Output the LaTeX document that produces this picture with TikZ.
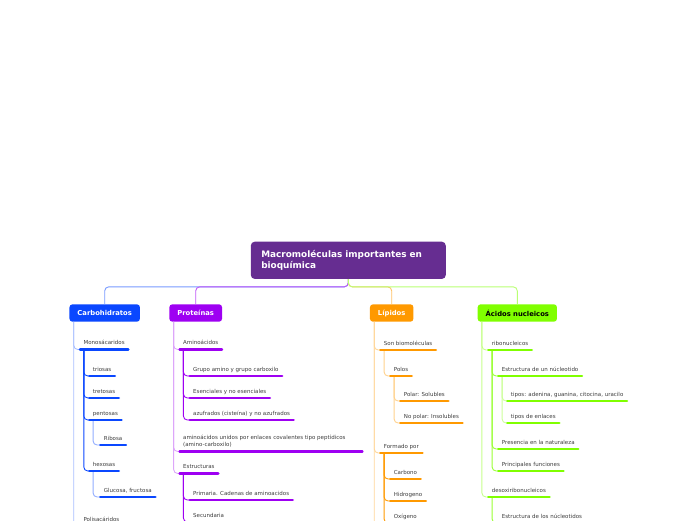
\documentclass[tikz,border=0pt]{standalone}
\usepackage{fontspec}
\newfontfamily\mapfont{DejaVu Sans}
\usetikzlibrary{calc}
\definecolor{RootPurple}{HTML}{662D91}
\definecolor{CarbBlue}{HTML}{0A47FF}
\definecolor{ProtPurple}{HTML}{9E00F2}
\definecolor{LipOrange}{HTML}{FF9900}
\definecolor{AcidGreen}{HTML}{80FF00}
\definecolor{TopicText}{HTML}{3C3C3C}

\begin{document}
\begin{tikzpicture}[x=1pt, y=-1pt,
    rootbox/.style={fill=RootPurple, rounded corners=4pt, text=white, font=\mapfont\bfseries\fontsize{8.9}{11}\selectfont, text width=174pt, align=left, inner xsep=10.5pt, inner ysep=0pt, minimum height=37.3pt},
    mainbox/.style={fill=#1, rounded corners=3pt, text=white, font=\mapfont\bfseries\fontsize{6.8}{8}\selectfont, inner xsep=8pt, inner ysep=0pt, minimum height=17.4pt},
    topic/.style={font=\mapfont\fontsize{5.5}{7.4}\selectfont, text=TopicText, anchor=south west, inner xsep=3.4pt, inner ysep=4.8pt, text depth=0pt},
    uline/.style={draw=#1, line width=2.6pt, line cap=round},
    link/.style={draw=#1, line width=0.9pt, rounded corners=4pt}
  ]
    \useasboundingbox (0,0) rectangle (696,520);
    \clip (0,0) rectangle (696,520);

    \node[rootbox] (root) at (348.3,260.3) {Macromoléculas importantes en\\bioquímica};

    \node[mainbox=CarbBlue] (carb) at (104.7,313) {Carbohidratos};
    \node[mainbox=ProtPurple] (prot) at (195.7,313) {Proteínas};
    \node[mainbox=LipOrange] (lip) at (391.7,313) {Lípidos};
    \node[mainbox=AcidGreen, text=black] (acid) at (517.3,313) {Ácidos nucleicos};

    \coordinate (hub) at ($(root.south)+(0,7.7)$);
    \draw[link=CarbBlue!55] (root.south) -- (hub) -| (carb.north);
    \draw[link=ProtPurple!65] (root.south) -- (hub) -| (prot.north);
    \draw[link=LipOrange!60] (root.south) -- (hub) -| (lip.north);
    \draw[link=AcidGreen!55] (root.south) -- (hub) -| (acid.north);

    % Carbohidratos
    \node[topic] (mono) at (80,349.5) {Monosácaridos};
    \node[topic] (trio) at (89.3,376) {triosas};
    \node[topic] (tret) at (89.3,398) {tretosas};
    \node[topic] (pent) at (89.3,420) {pentosas};
    \node[topic] (ribo) at (100.3,445) {Ribosa};
    \node[topic] (hexo) at (89.3,471) {hexosas};
    \node[topic] (gluc) at (100.3,497) {Glucosa, fructosa};
    \node[topic] (poli) at (80,526) {Polisacáridos};

    % Proteinas
    \node[topic] (amin) at (179.6,349.5) {Aminoácidos};
    \node[topic] (grup) at (189.6,376) {Grupo amino y grupo carboxilo};
    \node[topic] (esen) at (189.6,398) {Esenciales y no esenciales};
    \node[topic] (azuf) at (189.6,420) {azufrados (cisteína) y no azufrados};
    \node[topic] (unid) at (179.6,451.5) {\parbox[b]{175.6pt}{\raggedright aminoácidos unidos por enlaces covalentes tipo peptídicos\\(amino-carboxilo)}};
    \node[topic] (estr) at (179.6,473.5) {Estructuras};
    \node[topic] (prim) at (189.6,500) {Primaria. Cadenas de aminoacidos};
    \node[topic] (secu) at (189.6,522) {Secundaria};

    % Lipidos
    \node[topic] (sonb) at (380.3,350) {Son biomoléculas};
    \node[topic] (polo) at (390.3,376) {Polos};
    \node[topic] (pola) at (400.3,401) {Polar: Solubles};
    \node[topic] (nopo) at (400.3,423) {No polar: Insolubles};
    \node[topic] (form) at (380.3,453) {Formado por};
    \node[topic] (cbno) at (390.3,479) {Carbono};
    \node[topic] (hidr) at (390.3,501) {Hidrogeno};
    \node[topic] (oxig) at (390.3,523) {Oxígeno};
    \coordinate (lipnext) at (380.3,560);

    % Acidos nucleicos
    \node[topic] (ribn) at (488.3,350) {ribonucleicos};
    \node[topic] (estn) at (498.3,376) {Estructura de un núcleotido};
    \node[topic] (tipo) at (507.3,401) {tipos: adenina, guanina, citocina, uracilo};
    \node[topic] (tipe) at (507.3,423) {tipos de enlaces};
    \node[topic] (pres) at (498.3,449) {Presencia en la naturaleza};
    \node[topic] (prin) at (498.3,471) {Principales funciones};
    \node[topic] (deso) at (488.3,497) {desoxiribonucleicos};
    \node[topic] (estl) at (498.3,523) {Estructura de los núcleotidos};

    \foreach \c in {mono,poli}
      \draw[link=CarbBlue!35] ($(carb.south west)+(4.5,0)$) |- (\c.south west);
    \foreach \c in {trio,tret,pent,hexo}
      \draw[link=CarbBlue] ($(mono.south west)+(3.8,0)$) |- (\c.south west);
    \draw[link=CarbBlue!45] ($(pent.south west)+(3.8,0)$) |- (ribo.south west);
    \draw[link=CarbBlue!45] ($(hexo.south west)+(3.8,0)$) |- (gluc.south west);

    \foreach \c in {amin,unid,estr}
      \draw[link=ProtPurple!35] ($(prot.south west)+(4.5,0)$) |- (\c.south west);
    \foreach \c in {grup,esen,azuf}
      \draw[link=ProtPurple] ($(amin.south west)+(3.8,0)$) |- (\c.south west);
    \foreach \c in {prim,secu}
      \draw[link=ProtPurple] ($(estr.south west)+(3.8,0)$) |- (\c.south west);

    \foreach \c in {sonb,form,lipnext}
      \draw[link=LipOrange!40] ($(lip.south west)+(4.5,0)$) |- (\c.south west);
    \draw[link=LipOrange!45] ($(sonb.south west)+(3.8,0)$) |- (polo.south west);
    \foreach \c in {pola,nopo}
      \draw[link=LipOrange!45] ($(polo.south west)+(3.8,0)$) |- (\c.south west);
    \foreach \c in {cbno,hidr,oxig}
      \draw[link=LipOrange] ($(form.south west)+(3.8,0)$) |- (\c.south west);

    \foreach \c in {ribn,deso}
      \draw[link=AcidGreen!45] ($(acid.south west)+(4.5,0)$) |- (\c.south west);
    \foreach \c in {estn,pres,prin}
      \draw[link=AcidGreen!80] ($(ribn.south west)+(3.8,0)$) |- (\c.south west);
    \foreach \c in {tipo,tipe}
      \draw[link=AcidGreen!40] ($(estn.south west)+(3.8,0)$) |- (\c.south west);
    \draw[link=AcidGreen!80] ($(deso.south west)+(3.8,0)$) |- (estl.south west);

    \foreach \n in {mono,trio,tret,pent,ribo,hexo,gluc,poli}
      \draw[uline=CarbBlue] (\n.south west) -- (\n.south east);
    \foreach \n in {amin,grup,esen,azuf,unid,estr,prim,secu}
      \draw[uline=ProtPurple] (\n.south west) -- (\n.south east);
    \foreach \n in {sonb,polo,pola,nopo,form,cbno,hidr,oxig}
      \draw[uline=LipOrange] (\n.south west) -- (\n.south east);
    \foreach \n in {ribn,estn,tipo,tipe,pres,prin,deso,estl}
      \draw[uline=AcidGreen] (\n.south west) -- (\n.south east);
  \end{tikzpicture}
\end{document}
